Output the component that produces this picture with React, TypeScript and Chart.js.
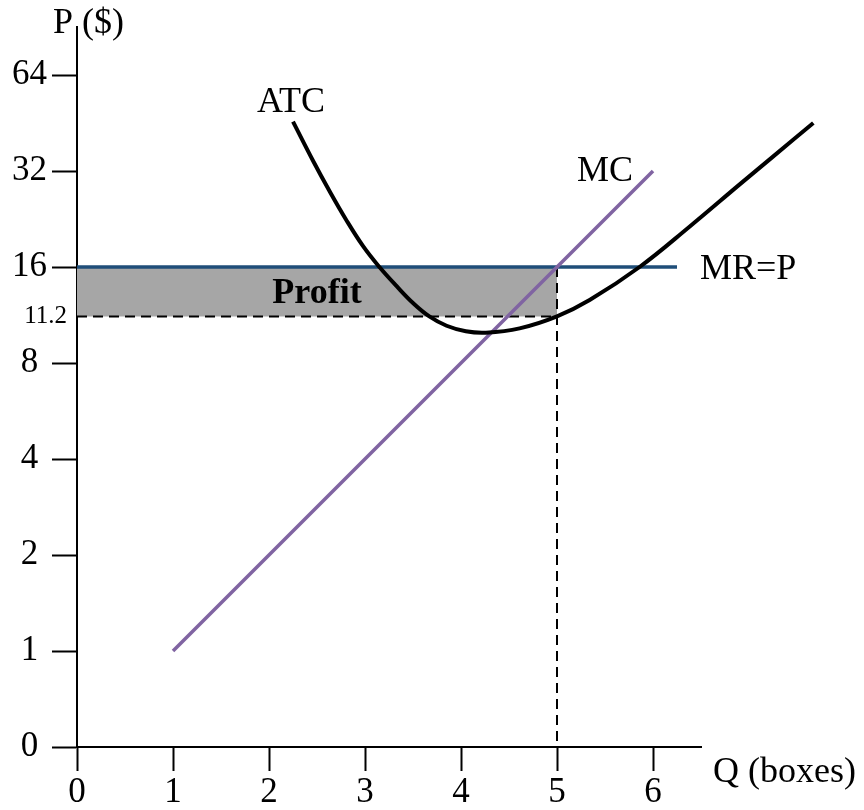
import React, { useEffect, useRef } from 'react';
import { Chart, registerables } from 'chart.js';

Chart.register(...registerables);

const FONT = "'Liberation Serif', 'Times New Roman', Times, serif";

// Axis ticks (y axis is a log2 price scale; the bottom tick is labelled "0")
const xTicks = [0, 1, 2, 3, 4, 5, 6];
const yTicks = [0.5, 1, 2, 4, 8, 16, 32, 64];
const yTickLabels = ['0', '1', '2', '4', '8', '16', '32', '64'];

// Average total cost curve (Q, $)
const atcQ = [2.25, 2.46, 2.63, 2.8, 2.98, 3.15, 3.33, 3.5, 3.67, 3.85, 4.05, 4.26, 4.61, 5.0, 5.34, 5.86, 6.38, 6.9, 7.25, 7.67];
const atcP = [45.7, 34.4, 27.7, 22.6, 18.6, 16.0, 13.93, 12.34, 11.2, 10.47, 10.06, 9.96, 10.27, 11.2, 12.6, 16.0, 21.4, 29.0, 35.5, 45.25];

// Marginal cost line
const mcQ = [1, 6];
const mcP = [1, 32];

// Marginal revenue = price line
const mrQ = [0, 6.25];
const price = 16;

// Profit-maximising output and ATC there
const qStar = 5;
const atcStar = 11.2;

const yBottom = 0.5; // the value shown as "0"
const yMax = 90.51;
const xMax = 6.5;

const labelsPlugin = {
  id: 'econLabels',
  afterDraw(chart: any) {
    const { ctx, scales, chartArea } = chart;
    const x = scales.x;
    const y = scales.y;
    ctx.save();
    ctx.fillStyle = '#000';
    ctx.textBaseline = 'alphabetic';
    ctx.textAlign = 'left';
    ctx.font = `36px ${FONT}`;
    ctx.fillText('ATC', x.getPixelForValue(atcQ[0]) - 36, y.getPixelForValue(atcP[0]) - 10);
    ctx.fillText('MC', x.getPixelForValue(mcQ[1]) - 76, y.getPixelForValue(mcP[1]) + 10);
    ctx.fillText('MR=P', x.getPixelForValue(mrQ[1]) + 23, y.getPixelForValue(price) + 12);
    ctx.fillText('P ($)', chartArea.left - 24, chartArea.top + 6);
    ctx.fillText('Q (boxes)', chartArea.right + 12, chartArea.bottom + 35);

    ctx.font = `bold 36px ${FONT}`;
    ctx.textAlign = 'center';
    const midY = (y.getPixelForValue(price) + y.getPixelForValue(atcStar)) / 2;
    ctx.fillText('Profit', x.getPixelForValue(qStar / 2), midY + 11);

    ctx.font = `25px ${FONT}`;
    ctx.textAlign = 'right';
    ctx.fillText(String(atcStar), chartArea.left - 10, y.getPixelForValue(atcStar) + 7);
    ctx.restore();
  },
};

export default function App() {
  const ref = useRef<HTMLCanvasElement | null>(null);

  useEffect(() => {
    const canvas = ref.current;
    if (!canvas) return;
    const pts = (qs: number[], ps: number[]) => qs.map((q, i) => ({ x: q, y: ps[i] }));

    const chart = new Chart(canvas, {
      type: 'line',
      data: {
        datasets: [
          {
            label: 'ATC',
            data: pts(atcQ, atcP),
            borderColor: '#000000',
            borderWidth: 4,
            pointRadius: 0,
            tension: 0.4,
            fill: false,
            clip: false,
            order: 0,
          },
          {
            label: 'MC',
            data: pts(mcQ, mcP),
            borderColor: '#8064a2',
            borderWidth: 3.5,
            pointRadius: 0,
            fill: false,
            clip: false,
            order: 1,
          },
          {
            label: 'MR=P',
            data: mrQ.map((q) => ({ x: q, y: price })),
            borderColor: '#1f4e79',
            borderWidth: 3.5,
            pointRadius: 0,
            fill: false,
            clip: false,
            order: 2,
          },
          {
            label: 'ATC at Q*',
            data: [{ x: 0, y: atcStar }, { x: qStar, y: atcStar }],
            borderColor: '#000000',
            borderWidth: 2,
            borderDash: [10, 6],
            pointRadius: 0,
            fill: false,
            order: 3,
          },
          {
            label: 'Q*',
            data: [{ x: qStar, y: price }, { x: qStar, y: yBottom }],
            borderColor: '#000000',
            borderWidth: 2,
            borderDash: [10, 6],
            pointRadius: 0,
            fill: false,
            order: 3,
          },
          {
            label: 'Profit',
            data: [{ x: 0, y: price }, { x: qStar, y: price }],
            borderColor: 'rgba(0,0,0,0)',
            backgroundColor: '#a6a6a6',
            pointRadius: 0,
            fill: { value: atcStar },
            order: 5,
          },
        ],
      },
      options: {
        responsive: false,
        maintainAspectRatio: false,
        animation: false,
        layout: { padding: { left: 0, top: 27, right: 163, bottom: 0 } },
        plugins: {
          legend: { display: false },
          tooltip: { enabled: false },
        },
        scales: {
          x: {
            type: 'linear',
            bounds: 'data',
            afterDataLimits: (s: any) => {
              s.min = 0;
              s.max = xMax;
            },
            afterBuildTicks: (s: any) => {
              s.ticks = xTicks.map((v) => ({ value: v }));
            },
            afterFit: (s: any) => {
              s.height = 63;
            },
            ticks: {
              autoSkip: false,
              maxRotation: 0,
              padding: 1,
              color: '#000',
              font: { family: FONT, size: 35 },
              callback: (v: any) => String(v),
            },
            grid: {
              drawOnChartArea: false,
              drawTicks: true,
              tickLength: 24,
              tickWidth: 2,
              tickColor: '#000',
            },
            border: { display: true, color: '#000', width: 2 },
          },
          y: {
            type: 'logarithmic',
            min: yBottom,
            max: yMax,
            bounds: 'data',
            afterBuildTicks: (s: any) => {
              s.ticks = yTicks.map((v) => ({ value: v }));
            },
            afterFit: (s: any) => {
              s.width = 77;
            },
            ticks: {
              autoSkip: false,
              crossAlign: 'center',
              padding: 5,
              color: '#000',
              font: { family: FONT, size: 35 },
              callback: (v: any) => {
                const i = yTicks.indexOf(Number(v));
                return i >= 0 ? yTickLabels[i] : '';
              },
            },
            grid: {
              drawOnChartArea: false,
              drawTicks: true,
              tickLength: 25,
              tickWidth: 2,
              tickColor: '#000',
            },
            border: { display: true, color: '#000', width: 2 },
          },
        },
      } as any,
      plugins: [labelsPlugin],
    } as any);

    return () => chart.destroy();
  }, []);

  return (
    <div style={{ position: 'absolute', left: 0, top: 0, width: 864, height: 810, background: '#fff' }}>
      <canvas ref={ref} width={864} height={810} style={{ display: 'block', width: 864, height: 810 }} />
    </div>
  );
}
